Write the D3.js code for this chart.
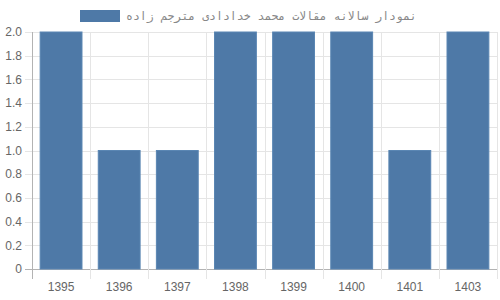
<!DOCTYPE html>
<html>
<head>
<meta charset="utf-8">
<script src="https://cdn.jsdelivr.net/npm/d3@7"></script>
<style>
body { margin: 0; background: #fff; }
svg { display: block; }
</style>
</head>
<body>
<svg id="chart" width="500" height="300"></svg>
<script>
// data
var years = ["1395", "1396", "1397", "1398", "1399", "1400", "1401", "1403"];
var counts = [2, 1, 1, 2, 2, 2, 1, 2];
var yTicks = [0, 0.2, 0.4, 0.6, 0.8, 1.0, 1.2, 1.4, 1.6, 1.8, 2.0];
var seriesLabel = "نمودار سالانه مقالات محمد خدادادی مترجم زاده";

var svg = d3.select("#chart"),
margin = {top: 32, right: 3, bottom: 31, left: 32},
width = +svg.attr("width") - margin.left - margin.right,
height = +svg.attr("height") - margin.top - margin.bottom,
g = svg.append("g").attr("transform", "translate(" + margin.left + "," + margin.top + ")");

var barColor = "#4e79a7";

var x = d3.scaleBand()
.domain(years)
.range([0, width]);

var y = d3.scaleLinear()
.domain([0, 2])
.range([height, 0]);

// horizontal grid
g.selectAll(".hgrid")
.data(yTicks)
.enter().append("line")
.attr("class", "hgrid")
.attr("x1", -7).attr("x2", width)
.attr("y1", function(d) { return Math.round(y(d)) + 0.5; })
.attr("y2", function(d) { return Math.round(y(d)) + 0.5; })
.attr("stroke", function(d) { return d === 0 ? "#b3b3b3" : "#e5e5e5"; });

// vertical grid on category edges
var edges = years.map(function(d) { return x(d); }).concat([width]);
g.selectAll(".vgrid")
.data(edges)
.enter().append("line")
.attr("class", "vgrid")
.attr("x1", function(d) { return Math.round(d) + 0.5; })
.attr("x2", function(d) { return Math.round(d) + 0.5; })
.attr("y1", 0).attr("y2", height + 10)
.attr("stroke", function(d, i) { return i === 0 ? "#b3b3b3" : "#e5e5e5"; });

// y labels
g.selectAll(".ylab")
.data(yTicks)
.enter().append("text")
.attr("class", "ylab")
.attr("x", -10)
.attr("y", function(d) { return y(d); })
.attr("dy", "0.35em")
.attr("text-anchor", "end")
.attr("font-family", "Liberation Sans, Arial, sans-serif")
.attr("font-size", 12)
.attr("fill", "#666")
.text(function(d) { return d === 0 ? "0" : d.toFixed(1); });

// x labels
g.selectAll(".xlab")
.data(years)
.enter().append("text")
.attr("class", "xlab")
.attr("x", function(d) { return x(d) + x.bandwidth() / 2; })
.attr("y", height + 22)
.attr("text-anchor", "middle")
.attr("font-family", "Liberation Sans, Arial, sans-serif")
.attr("font-size", 12)
.attr("fill", "#666")
.text(function(d) { return d; });

// bars
var barW = x.bandwidth() * 0.72;
g.selectAll(".bar")
.data(years)
.enter().append("rect")
.attr("class", "bar")
.attr("x", function(d) { return x(d) + (x.bandwidth() - barW) / 2; })
.attr("y", function(d, i) { return y(counts[i]); })
.attr("width", barW)
.attr("height", function(d, i) { return height - y(counts[i]); })
.attr("fill", barColor)
.attr("stroke", "#5a86b3")
.attr("stroke-width", 1);

// legend
svg.append("rect")
.attr("x", 80).attr("y", 10)
.attr("width", 40).attr("height", 12)
.attr("fill", barColor);

svg.append("text")
.attr("x", 126)
.attr("y", 16)
.attr("dy", "0.35em")
.attr("font-family", "DejaVu Sans Mono, monospace")
.attr("font-size", 11.5)
.attr("fill", "#888")
.text(seriesLabel);
</script>
</body>
</html>
